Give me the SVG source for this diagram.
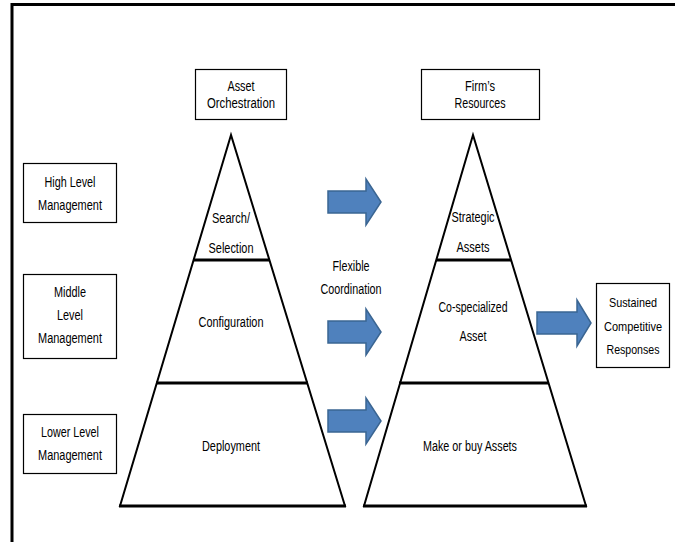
<svg xmlns="http://www.w3.org/2000/svg" width="675" height="542" viewBox="0 0 675 542">
<style>
text{font-family:"Liberation Sans",Arial,sans-serif;font-size:14px;fill:#000;text-anchor:middle}
.sm{font-size:13px}
.box{fill:#fff;stroke:#000;stroke-width:1.2}
.tri{fill:#fff;stroke:#000;stroke-width:2;stroke-linejoin:miter}
.div{stroke:#000;stroke-width:3}
.arr{fill:#4f81bd;stroke:#3a6592;stroke-width:1.5;stroke-linejoin:miter}
</style>
<rect width="675" height="542" fill="#fff"/>
<path d="M12,542 V4.5 H675" fill="none" stroke="#000" stroke-width="3"/>

<g id="asset-orchestration">
<rect class="box" x="195.5" y="69.5" width="91" height="50"/>
<text x="241" y="91" textLength="27" lengthAdjust="spacingAndGlyphs">Asset</text>
<text x="241" y="108" textLength="68" lengthAdjust="spacingAndGlyphs">Orchestration</text>
</g>
<g id="firms-resources">
<rect class="box" x="421.5" y="69.5" width="118" height="50"/>
<text x="480" y="91" textLength="30" lengthAdjust="spacingAndGlyphs">Firm’s</text>
<text x="480" y="108" textLength="51" lengthAdjust="spacingAndGlyphs">Resources</text>
</g>

<g id="high-level">
<rect class="box" x="23.5" y="163.5" width="93" height="59"/>
<text x="70" y="187" textLength="51" lengthAdjust="spacingAndGlyphs">High Level</text>
<text x="70" y="210" textLength="64" lengthAdjust="spacingAndGlyphs">Management</text>
</g>
<g id="middle-level">
<rect class="box" x="23.5" y="274.5" width="93" height="84"/>
<text x="70" y="297" textLength="32" lengthAdjust="spacingAndGlyphs">Middle</text>
<text x="70" y="320" textLength="26" lengthAdjust="spacingAndGlyphs">Level</text>
<text x="70" y="343" textLength="64" lengthAdjust="spacingAndGlyphs">Management</text>
</g>
<g id="lower-level">
<rect class="box" x="23.5" y="414.5" width="93" height="59"/>
<text x="70" y="437" textLength="58" lengthAdjust="spacingAndGlyphs">Lower Level</text>
<text x="70" y="460" textLength="64" lengthAdjust="spacingAndGlyphs">Management</text>
</g>

<g id="pyramid-orchestration">
<polygon class="tri" points="231,135 120,506 345,506"/>
<line class="div" x1="193" y1="260" x2="270" y2="260"/>
<line class="div" x1="156" y1="383" x2="308" y2="383"/>
<line class="div" x1="119" y1="506" x2="346" y2="506"/>
<text x="231" y="223" textLength="38" lengthAdjust="spacingAndGlyphs">Search/</text>
<text x="231" y="253" textLength="45" lengthAdjust="spacingAndGlyphs">Selection</text>
<text x="231" y="327" textLength="65" lengthAdjust="spacingAndGlyphs">Configuration</text>
<text x="231" y="451" textLength="58" lengthAdjust="spacingAndGlyphs">Deployment</text>
</g>

<g id="pyramid-resources">
<polygon class="tri" points="473,135 364,506 586,506"/>
<line class="div" x1="436" y1="260" x2="511" y2="260"/>
<line class="div" x1="399" y1="383" x2="549" y2="383"/>
<line class="div" x1="363" y1="506" x2="587" y2="506"/>
<text x="473" y="222" textLength="43" lengthAdjust="spacingAndGlyphs">Strategic</text>
<text x="473" y="252" textLength="33" lengthAdjust="spacingAndGlyphs">Assets</text>
<text x="473" y="312" textLength="69" lengthAdjust="spacingAndGlyphs">Co-specialized</text>
<text x="473" y="341" textLength="27" lengthAdjust="spacingAndGlyphs">Asset</text>
<text x="470" y="451" textLength="94" lengthAdjust="spacingAndGlyphs">Make or buy Assets</text>
</g>

<g id="sustained">
<rect class="box" x="596.5" y="283.5" width="73" height="84"/>
<text class="sm" x="633" y="307" textLength="48" lengthAdjust="spacingAndGlyphs">Sustained</text>
<text class="sm" x="633" y="331" textLength="58" lengthAdjust="spacingAndGlyphs">Competitive</text>
<text class="sm" x="633" y="354" textLength="53" lengthAdjust="spacingAndGlyphs">Responses</text>
</g>

<g id="flexible-coordination">
<text x="351" y="271" textLength="37" lengthAdjust="spacingAndGlyphs">Flexible</text>
<text x="351" y="294" textLength="61" lengthAdjust="spacingAndGlyphs">Coordination</text>
</g>

<g id="connectors">
<polygon class="arr" points="328,191 366,191 366,179 381,202 366,225 366,213 328,213"/>
<polygon class="arr" points="328,321 366,321 366,309 381,332 366,355 366,343 328,343"/>
<polygon class="arr" points="328,410 366,410 366,398 381,421 366,444 366,432 328,432"/>
<polygon class="arr" points="537,312 577,312 577,300 591,323 577,346 577,334 537,334"/>
</g>
</svg>
